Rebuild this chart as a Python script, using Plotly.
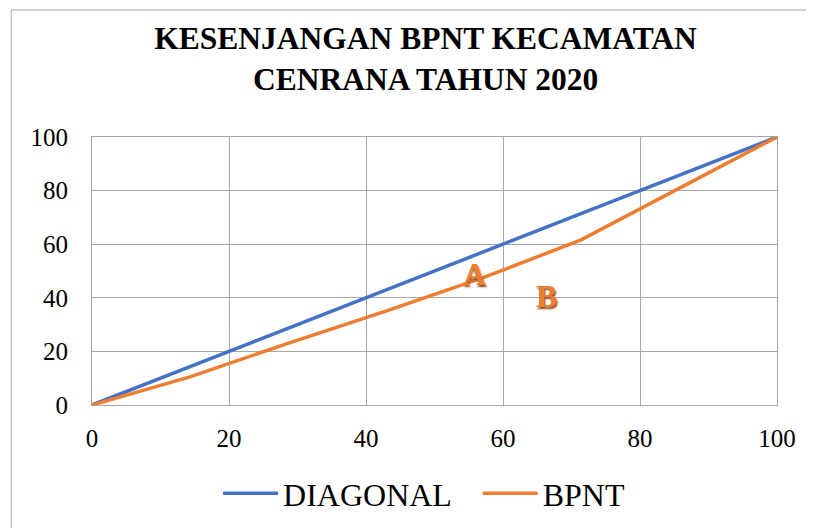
import plotly.graph_objects as go

diag_x = [0, 100]
diag_y = [0, 100]
bpnt_x = [0, 14.3, 28.6, 42.9, 57.1, 71.4, 100]
bpnt_y = [0, 10.5, 23.0, 35.0, 47.5, 61.6, 100]
tick_vals = [0, 20, 40, 60, 80, 100]
title_text = "KESENJANGAN BPNT KECAMATAN<br>CENRANA TAHUN 2020"
labels = [("A", 55.8, 48.9), ("B", 66.4, 40.7)]

BLUE = "#4472C4"
ORANGE = "#ED7D31"
GRID = "#A6A6A6"
FONT = "Liberation Serif, Times New Roman, serif"

fig = go.Figure()
fig.add_trace(go.Scatter(x=diag_x, y=diag_y, mode="lines", name="DIAGONAL",
                         line=dict(color=BLUE, width=3.5), legend="legend"))
fig.add_trace(go.Scatter(x=bpnt_x, y=bpnt_y, mode="lines", name="BPNT",
                         line=dict(color=ORANGE, width=3.5), legend="legend2"))

for txt, x, y in labels:
    fig.add_annotation(x=x, y=y, text="<b>%s</b>" % txt, showarrow=False,
                       font=dict(family=FONT, size=32, color=ORANGE,
                                 shadow="1px 2px 2px #8a4210"))

fig.add_shape(type="rect", xref="paper", yref="paper",
              x0=-0.118, x1=1.1, y0=-0.55, y1=1.474,
              line=dict(color=GRID, width=1), fillcolor="rgba(0,0,0,0)", layer="below")

axis_common = dict(range=[0, 100], tickvals=tick_vals, showgrid=True, gridcolor=GRID,
                   gridwidth=1, showline=True, linecolor=GRID, linewidth=1, mirror=True,
                   zeroline=False, tickfont=dict(family=FONT, size=25, color="black"),
                   ticks="", fixedrange=True)

legend_common = dict(orientation="h", yanchor="middle", y=-0.33, xanchor="left",
                     font=dict(family=FONT, size=32, color="black"), itemwidth=55,
                     bgcolor="rgba(0,0,0,0)")

fig.update_layout(
    width=814, height=528,
    margin=dict(l=84, r=45, t=129, b=131),
    paper_bgcolor="white", plot_bgcolor="white",
    title=dict(text="<b>" + title_text + "</b>", x=0.513, xanchor="center",
               y=0.923, yanchor="middle", yref="container",
               font=dict(family=FONT, size=31.5, color="black")),
    xaxis=dict(**axis_common, ticklabelstandoff=11),
    yaxis=dict(**axis_common, ticklabelstandoff=18),
    legend=dict(**legend_common, x=0.184),
    legend2=dict(**legend_common, x=0.563),
    showlegend=True,
)

fig.write_html("out.html")
